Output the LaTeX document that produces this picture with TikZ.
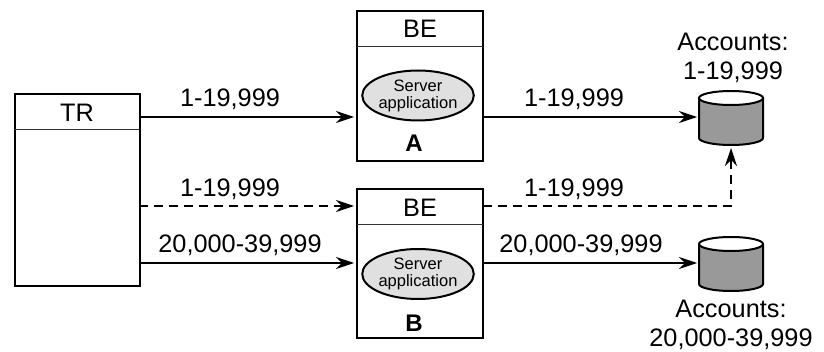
\documentclass[tikz,border=0pt]{standalone}
\usepackage{fontspec}
\setmainfont{Liberation Sans}
\usetikzlibrary{arrows.meta,shapes.geometric}
\tikzset{
  frame/.style={draw=black,line width=2pt,fill=white,inner sep=0pt},
  divider/.style={line width=1pt,draw=black!80},
  conn/.style={line width=1.1pt,-{Stealth[length=18pt,width=12pt,inset=6pt]}},
  dconn/.style={conn,dash pattern=on 9pt off 6pt},
  lab/.style={font=\fontsize{25.3}{29.5}\selectfont,inner sep=0pt},
  srv/.style={ellipse,draw=black,line width=2pt,fill=black!12,minimum width=109pt,minimum height=50pt,inner sep=0pt,align=center,font=\fontsize{16.5}{17}\selectfont},
  bold/.style={font=\fontsize{24}{25}\selectfont\bfseries,inner sep=0pt}
}
\newcommand{\cyl}[3]{%
  \fill[black!40] (#1,#2+7) -- (#1,#2+47) arc[start angle=180,end angle=0,x radius=32,y radius=7] -- (#1+64,#2+7) -- cycle;
  \draw[line width=2pt] (#1,#2+7) -- (#1,#2+47) arc[start angle=180,end angle=0,x radius=32,y radius=7] -- (#1+64,#2+7);
  \draw[line width=2pt,fill=white] (#1+32,#2+7) ellipse[x radius=32,y radius=7];
  \coordinate (#3) at (#1+32,#2+27);
}
\begin{document}
\begin{tikzpicture}[x=1pt,y=-1pt]
\useasboundingbox (0,0) rectangle (824,352);
\node[frame,minimum width=125pt,minimum height=192pt] (tr) at (77,190) {};
\draw[divider] (14,130) -- (139,130);
\node[lab] (trl) at (77,113) {TR};
\node[frame,minimum width=126pt,minimum height=150pt] (bea) at (420,86) {};
\draw[divider] (357,46.5) -- (483,46.5);
\node[lab] (bel) at (420,29) {BE};
\node[srv] (sa) at (418,95.5) {Server\\application};
\node[bold] (a) at (414,143) {A};
\node[frame,minimum width=126pt,minimum height=149pt] (beb) at (420,263.5) {};
\draw[divider] (357,225) -- (483,225);
\node[lab] (bel2) at (420,208) {BE};
\node[srv] (sb) at (418,274) {Server\\application};
\node[bold] (b) at (414,323) {B};
\cyl{699}{91}{ca}
\cyl{699}{237}{cb}
\coordinate (e1) at (354,117);
\coordinate (s1) at (139,117);
\draw[conn] (s1) -- (e1);
\node[lab] (l1) at (230,99) {1-19,999};
\coordinate (s2) at (139,206);
\coordinate (e2) at (354,206);
\draw[dconn] (s2) -- (e2);
\node[lab] (l2) at (230,189) {1-19,999};
\coordinate (s3) at (139,263);
\coordinate (e3) at (354,263);
\draw[conn] (s3) -- (e3);
\node[lab] (l3) at (240,245) {20,000-39,999};
\coordinate (s4) at (483,117);
\coordinate (e4) at (697,117);
\draw[conn] (s4) -- (e4);
\node[lab] (l4) at (574,99) {1-19,999};
\coordinate (s5) at (483,263);
\coordinate (e5) at (697,263);
\coordinate (s6) at (483,206);
\coordinate (e6) at (731,148);
\coordinate (k6) at (731,206);
\draw[dconn] (s6) -- (k6) -- (e6);
\node[lab] (l6) at (574,189) {1-19,999};
\draw[conn] (s5) -- (e5);
\node[lab] (l5) at (581,245) {20,000-39,999};
\node[lab,align=center] (acc1) at (733,58) {Accounts:\\1-19,999};
\node[lab,align=center] (acc2) at (731,325) {Accounts:\\20,000-39,999};
\end{tikzpicture}
\end{document}
